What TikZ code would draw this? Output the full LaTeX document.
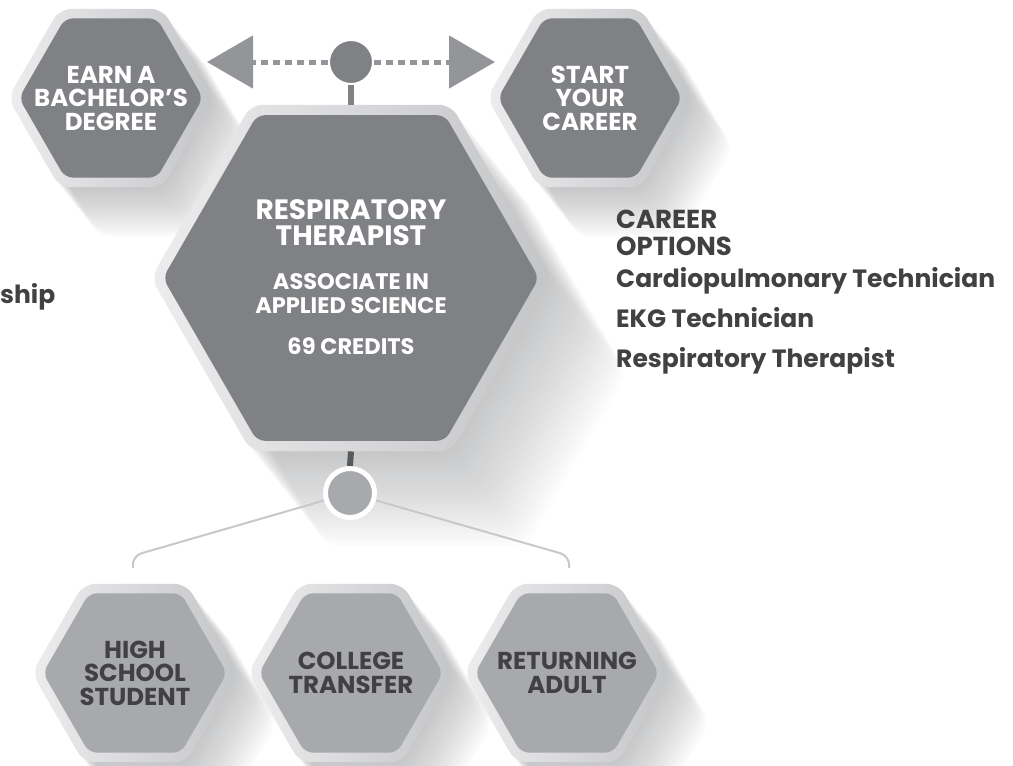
\documentclass[tikz,border=0pt]{standalone}
\usepackage{fontspec}
\setmainfont{Poppins}
\usetikzlibrary{arrows.meta,positioning,shapes.geometric}

\definecolor{hexdark}{HTML}{808184}
\definecolor{hexlight}{HTML}{A7A9AC}
\definecolor{rimlight}{HTML}{EDEDEE}
\definecolor{rimdark}{HTML}{C4C5C7}
\definecolor{inkgray}{HTML}{414042}
\definecolor{pointergray}{HTML}{939598}
\definecolor{treegray}{HTML}{C7C8CA}
\definecolor{stemdark}{HTML}{58595B}

\tikzset{
  hexrim/.style={regular polygon, regular polygon sides=6, inner sep=0pt, rounded corners=12pt, left color=rimlight, right color=rimdark},
  hexface/.style={regular polygon, regular polygon sides=6, inner sep=0pt, rounded corners=8pt},
  darkface/.style={hexface, fill=hexdark},
  lightface/.style={hexface, fill=hexlight},
  hexlabel/.style={inner sep=0pt, align=center, font=\bfseries\fontsize{24.5}{23.5}\selectfont},
  hextitle/.style={inner sep=0pt, align=center, text=white, font=\bfseries\fontsize{28}{26.5}\selectfont},
  hexsub/.style={inner sep=0pt, align=center, text=white, font=\bfseries\fontsize{22.5}{24.5}\selectfont},
  listtext/.style={inner sep=0pt, align=left, text=inkgray, font=\bfseries\fontsize{25}{40}\selectfont},
  hub/.style={circle, inner sep=0pt, fill=hexdark, draw=white, line width=2pt, minimum size=44pt},
  pointer/.style={draw=pointergray, line width=5pt, dash pattern=on 7pt off 5pt, -{Triangle[length=46pt, width=52pt, fill=pointergray]}},
  stem/.style={draw=hexdark, line width=6pt},
  tree/.style={draw=treegray, line width=2pt, rounded corners=10pt},
  shadowfill/.style={fill=hexdark, fill opacity=0.022, rounded corners=12pt}
}

\begin{document}
\begin{tikzpicture}[x=1pt, y=-1pt]
  \useasboundingbox (0,0) rectangle (1013,766);

  % long shadows, stacked faint copies
  \foreach \cx/\cy/\r/\d in {111/98/103/50, 590/98/103/50, 351/278/200/95, 135/673/103/50, 351/673/103/50, 567/673/103/50}{
    \foreach \k in {1,...,24}{
      \pgfmathsetmacro{\sx}{\cx+0.8*\k*\d/24}
      \pgfmathsetmacro{\sy}{\cy+\k*\d/24}
      \fill[shadowfill] (\sx,\sy) ++(0:\r) -- ++(120:\r) -- ++(180:\r) -- ++(240:\r) -- ++(300:\r) -- ++(0:\r) -- cycle;
    }
  }

  % bottom hub and the three ways in
  \node[hub, fill=hexlight, line width=5pt, minimum size=49pt] (bothub) at (350,493) {};
  \coordinate (hsknee) at (132,556);
  \coordinate (hsend) at (133,568);
  \coordinate (raknee) at (570,556);
  \coordinate (raend) at (569,568);
  \draw[tree] (bothub) -- (hsknee) -- (hsend);
  \draw[tree] (bothub) -- (raknee) -- (raend);

  % centre hexagon
  \node[hexrim, minimum size=400pt] (rtrim) at (351,278) {};
  \node[darkface, minimum size=376pt] (rt) at (rtrim) {};
  \node[hextitle, anchor=north] (rttitle) at (351,199) {RESPIRATORY\\THERAPIST};
  \node[hexsub, below=27pt of rttitle] (rtdegree) {ASSOCIATE IN\\APPLIED SCIENCE};
  \node[hexsub, below=23pt of rtdegree] (rtcredits) {69 CREDITS};

  % top: next steps
  \node[hexrim, minimum size=206pt] (bachrim) at (111,98) {};
  \node[darkface, minimum size=184pt] (bach) at (bachrim) {};
  \node[hexlabel, text=white] (bachtext) at (bach) {EARN A\\BACHELOR’S\\DEGREE};
  \node[hexrim, minimum size=206pt] (careerrim) at (590,98) {};
  \node[darkface, minimum size=184pt] (career) at (careerrim) {};
  \node[hexlabel, text=white] (careertext) at (career) {START\\YOUR\\CAREER};

  \node[hub] (tophub) at (351,62) {};
  \coordinate (bachtip) at (207,62);
  \coordinate (careertip) at (495,62);
  \draw[pointer] (tophub) -- (bachtip);
  \draw[pointer] (tophub) -- (careertip);
  \draw[stem] (tophub.south) -- (rtrim.north);
  \draw[stem, draw=stemdark] (rtrim.south) -- (bothub.north);

  % bottom: who starts here
  \node[hexrim, minimum size=206pt] (hsrim) at (135,673) {};
  \node[lightface, minimum size=184pt] (hs) at (hsrim) {};
  \node[hexlabel, text=inkgray] (hstext) at (hs) {HIGH\\SCHOOL\\STUDENT};
  \node[hexrim, minimum size=206pt] (ctrim) at (351,673) {};
  \node[lightface, minimum size=184pt] (ct) at (ctrim) {};
  \node[hexlabel, text=inkgray] (cttext) at (ct) {COLLEGE\\TRANSFER};
  \node[hexrim, minimum size=206pt] (rarim) at (567,673) {};
  \node[lightface, minimum size=184pt] (ra) at (rarim) {};
  \node[hexlabel, text=inkgray] (ratext) at (ra) {RETURNING\\ADULT};

  % side texts
  \node[listtext, font=\bfseries\fontsize{26}{27}\selectfont, anchor=north west] (opthead) at (616,210) {CAREER\\OPTIONS};
  \node[listtext, anchor=north west] (optlist) at (616,267) {Cardiopulmonary Technician\\EKG Technician\\Respiratory Therapist};
  \node[listtext, anchor=base west] (ship) at (0,303) {ship};
\end{tikzpicture}
\end{document}
